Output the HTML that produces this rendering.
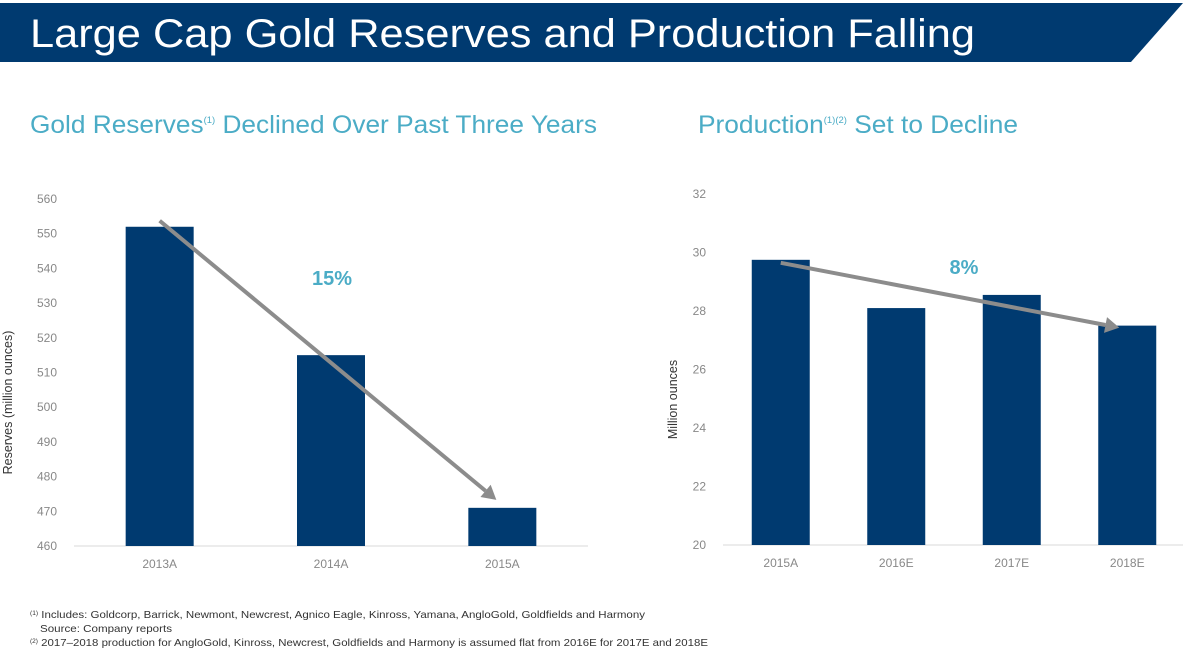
<!DOCTYPE html>
<html><head><meta charset="utf-8"><style>
body{margin:0;width:1183px;height:662px;background:#fff;overflow:hidden;font-family:"Liberation Sans",sans-serif;}
svg{position:absolute;left:0;top:0}
</style></head><body>
<svg width="1183" height="662">
<polygon points="0,3 1183,3 1131,62 0,62" fill="#003a70"/>
<text x="30" y="47" fill="#fff" font-size="40" textLength="945" lengthAdjust="spacingAndGlyphs">Large Cap Gold Reserves and Production Falling</text>
<text x="30" y="133" fill="#4bacc6" font-size="25" textLength="567" lengthAdjust="spacingAndGlyphs">Gold Reserves<tspan font-size="9" dy="-10">(1)</tspan><tspan dy="10"> Declined Over Past Three Years</tspan></text>
<text x="698" y="133" fill="#4bacc6" font-size="25" textLength="320" lengthAdjust="spacingAndGlyphs">Production<tspan font-size="9" dy="-10">(1)(2)</tspan><tspan dy="10"> Set to Decline</tspan></text>
<g id="left"></g>
<g id="right"></g>
<text x="30" y="618" font-size="10.5" fill="#333" textLength="615" lengthAdjust="spacingAndGlyphs"><tspan font-size="6" dy="-3">(1)</tspan><tspan dy="3"> Includes:  Goldcorp, Barrick, Newmont, Newcrest, Agnico Eagle, Kinross, Yamana, AngloGold, Goldfields and Harmony</tspan></text>
<text x="40" y="632" font-size="10.5" fill="#333" textLength="132" lengthAdjust="spacingAndGlyphs">Source: Company reports</text>
<text x="30" y="646" font-size="10.5" fill="#333" textLength="678" lengthAdjust="spacingAndGlyphs"><tspan font-size="6" dy="-3">(2)</tspan><tspan dy="3"> 2017–2018 production for AngloGold, Kinross, Newcrest, Goldfields and Harmony is assumed flat from 2016E for 2017E and 2018E</tspan></text>
</svg>
<script>
const NS="http://www.w3.org/2000/svg";
const leftCats=["2013A","2014A","2015A"];
const leftVals=[552,515,471];
const leftTicks=[460,470,480,490,500,510,520,530,540,550,560];
const rightCats=["2015A","2016E","2017E","2018E"];
const rightVals=[29.75,28.1,28.55,27.5];
const rightTicks=[20,22,24,26,28,30,32];
function mk(p,tag,a,txt){const e=document.createElementNS(NS,tag);for(const k in a)e.setAttribute(k,a[k]);if(txt!=null)e.textContent=txt;p.appendChild(e);return e;}
function chart(g,cats,vals,ticks,o){
  const y=v=>o.y0+(v-ticks[0])/(ticks[ticks.length-1]-ticks[0])*(o.y1-o.y0);
  const step=(o.xr-o.xl)/cats.length;const x=i=>o.xl+step*(i+0.5);
  ticks.forEach(t=>{const e=mk(g,"text",{x:o.tx,y:y(t)+4,"text-anchor":"end","font-size":12,fill:"#888"},t);
    });
  const ax=mk(g,"line",{x1:o.xl,x2:o.xr,y1:o.y0,y2:o.y0,stroke:"#d9d9d9","stroke-width":1});
  
  cats.forEach((c,i)=>{
    const b=mk(g,"rect",{x:x(i)-o.bw/2,y:y(vals[i]),width:o.bw,height:o.y0-y(vals[i]),fill:"#003a70"});
    
    const l=mk(g,"text",{x:x(i),y:o.y0+22,"text-anchor":"middle","font-size":12,fill:"#888"},c);
    
  });
  const yt=mk(g,"text",{transform:`translate(${o.ytx},${(o.y0+o.y1)/2+30}) rotate(-90)`,"text-anchor":"middle","font-size":12.5,fill:"#333"},o.ytitle);
  
  const n=cats.length-1;
  const x1=x(0),y1=y(vals[0])-o.dy,x2=x(n)-o.endOff,y2=y(vals[n])-o.dy2;
  const dx=x2-x1,dyy=y2-y1,L=Math.hypot(dx,dyy),ux=dx/L,uy=dyy/L;
  const bx=x2-ux*14,by=y2-uy*14;
  const ar=mk(g,"line",{x1:x1,y1:y1,x2:bx,y2:by,stroke:"#8c8c8c","stroke-width":4});
  
  const h=mk(g,"polygon",{points:`${x2},${y2} ${bx-uy*8},${by+ux*8} ${bx+uy*8},${by-ux*8}`,fill:"#8c8c8c"});
  
  const pct=Math.round((1-vals[n]/vals[0])*100);
  const p=mk(g,"text",{x:o.px,y:o.py,"text-anchor":"middle","font-size":20,"font-weight":"bold",fill:"#4bacc6"},pct+"%");
  
}
chart(document.getElementById("left"),leftCats,leftVals,leftTicks,{xl:74,xr:588,y0:546,y1:199,bw:68,tx:57,ytx:12,ytitle:"Reserves (million ounces)",dy:6,dy2:8,endOff:6,px:332,py:285});
chart(document.getElementById("right"),rightCats,rightVals,rightTicks,{xl:723,xr:1185,y0:545,y1:194,bw:58,tx:706,ytx:677,ytitle:"Million ounces",dy:-3,dy2:-2,endOff:8,px:964,py:274});
</script>
</body></html>
